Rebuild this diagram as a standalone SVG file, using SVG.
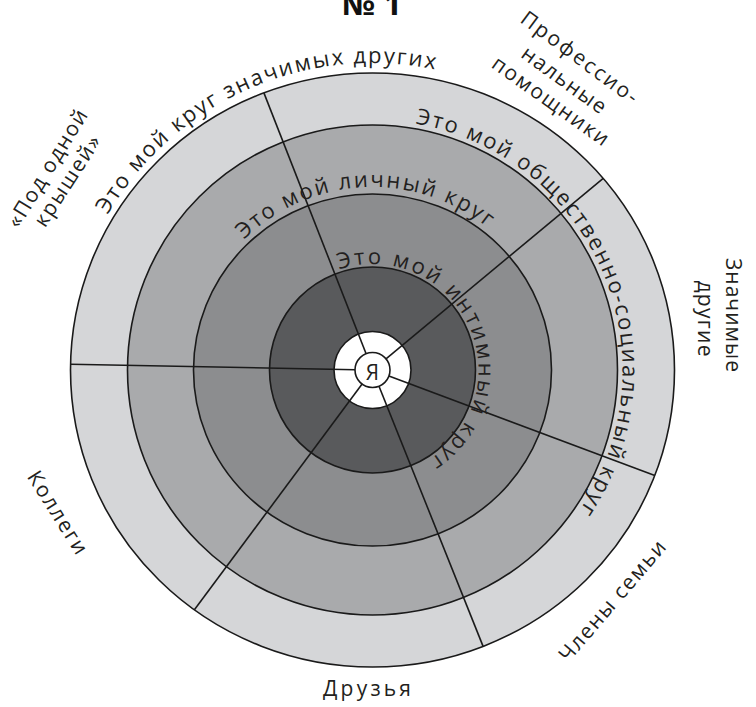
<svg xmlns="http://www.w3.org/2000/svg" width="756" height="707" viewBox="0 0 756 707">
<style>
.ring{stroke:#1a1a1a;stroke-width:1.6}
.div line{stroke:#1a1a1a;stroke-width:1.6}
.t{font-family:"Open Sans","Noto Sans","DejaVu Sans",sans-serif;font-size:22px;fill:#231f20}
.lab{font-family:"Open Sans","Noto Sans","DejaVu Sans",sans-serif;font-size:21px;fill:#231f20;text-anchor:middle}
</style>
<defs>
<path id="p1" d="M107.7,214.7 A307,307 0 0 1 434.8,69.4"/>
<path id="p2" d="M415.5,123.7 A250,250 0 0 1 579.5,510.2"/>
<path id="p3" d="M244.2,239.5 A183,183 0 0 1 487.7,227.8"/>
<path id="p4" d="M339.2,269.4 A106,106 0 0 1 429.5,459.4"/>
</defs>
<rect width="756" height="707" fill="#fff"/>
<g id="title"><text x="372" y="15" text-anchor="middle" font-family="'Open Sans','Liberation Sans',sans-serif" font-weight="bold" font-size="30" fill="#111" textLength="60" lengthAdjust="spacingAndGlyphs">№ 1</text></g>
<g id="ring-social"><ellipse class="ring" cx="372.5" cy="370" rx="302" ry="297" fill="#d5d6d8" stroke-width="2"/></g>
<g id="ring-significant"><circle class="ring" cx="372.5" cy="370" r="245" fill="#a9aaac"/></g>
<g id="ring-personal"><ellipse class="ring" cx="372.5" cy="370" rx="179" ry="176" fill="#8c8d8f"/></g>
<g id="ring-intimate"><circle class="ring" cx="372.5" cy="370" r="103" fill="#595a5c"/></g>
<g id="ring-near"><circle class="ring" cx="372.5" cy="370" r="38.5" fill="#ffffff"/></g>
<g id="connectors" class="div">
<line x1="366.1" y1="353.7" x2="263.9" y2="92.9"/>
<line x1="386.0" y1="358.8" x2="603.2" y2="178.4"/>
<line x1="388.9" y1="376.1" x2="654.8" y2="475.5"/>
<line x1="379.0" y1="386.2" x2="483.1" y2="646.4"/>
<line x1="362.1" y1="384.0" x2="194.4" y2="609.8"/>
<line x1="355.0" y1="369.7" x2="70.5" y2="364.2"/>
</g>
<g id="self"><circle class="ring" cx="372.5" cy="370" r="17.5" fill="#ffffff"/><text class="lab" x="372.5" y="380" font-size="20">Я</text></g>
<g id="ring-labels">
<text class="t"><textPath href="#p1" textLength="382" lengthAdjust="spacing">Это мой круг значимых других</textPath></text>
<text class="t"><textPath href="#p2" textLength="498" lengthAdjust="spacing">Это мой общественно-социальный круг</textPath></text>
<text class="t"><textPath href="#p3" textLength="266" lengthAdjust="spacing">Это мой личный круг</textPath></text>
<text class="t"><textPath href="#p4" textLength="306" lengthAdjust="spacing">Это мой интимный круг</textPath></text>
</g>
<g id="sector-labels">
<text class="lab" transform="translate(47.5,168.5) rotate(-58.5)" y="7" textLength="134" lengthAdjust="spacing">«Под одной</text>
<text class="lab" transform="translate(67.5,181) rotate(-57)" y="7" textLength="104" lengthAdjust="spacing">крышей»</text>
<text class="lab" transform="translate(579.5,57.5) rotate(36.5)" y="7" textLength="140" lengthAdjust="spacing">Профессио-</text>
<text class="lab" transform="translate(564,80) rotate(36)" y="7" textLength="99" lengthAdjust="spacing">нальные</text>
<text class="lab" transform="translate(550.5,101) rotate(35.5)" y="7" textLength="138" lengthAdjust="spacing">помощники</text>
<text class="lab" transform="translate(733,315) rotate(90)" y="7" textLength="114" lengthAdjust="spacing">Значимые</text>
<text class="lab" transform="translate(705,318.5) rotate(90)" y="7" textLength="76" lengthAdjust="spacing">другие</text>
<text class="lab" transform="translate(57.5,512.5) rotate(57.8)" y="7" textLength="94" lengthAdjust="spacing">Коллеги</text>
<text class="lab" transform="translate(612.5,601) rotate(-49.4)" y="7" textLength="152" lengthAdjust="spacing">Члены семьи</text>
<text class="lab" x="367" y="696" textLength="88" lengthAdjust="spacing">Друзья</text>
</g>
</svg>
